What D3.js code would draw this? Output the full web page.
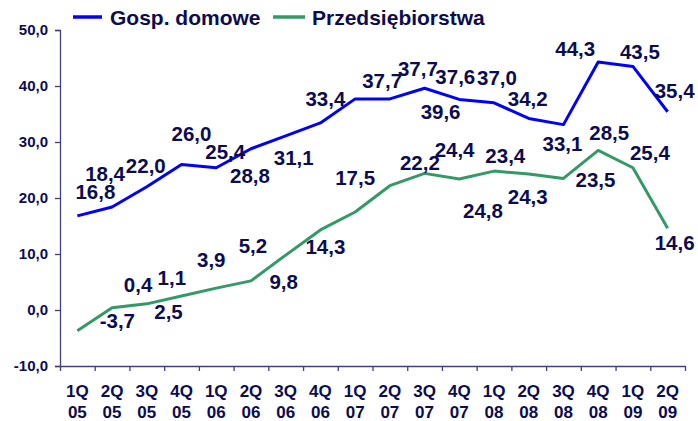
<!DOCTYPE html>
<html>
<head>
<meta charset="utf-8">
<script src="https://cdn.jsdelivr.net/npm/d3@7"></script>
<style>
  body { margin: 0; background: #fff; }
  svg { display: block; font-family: Arial, "Liberation Sans", sans-serif; font-weight: bold; }
</style>
</head>
<body>
<svg width="698" height="421"></svg>
<script>
// data
const quarters = ["1Q 05","2Q 05","3Q 05","4Q 05","1Q 06","2Q 06","3Q 06","4Q 06",
  "1Q 07","2Q 07","3Q 07","4Q 07","1Q 08","2Q 08","3Q 08","4Q 08","1Q 09","2Q 09"];
const households = [16.8,18.4,22.0,26.0,25.4,28.8,31.1,33.4,37.7,37.7,39.6,37.6,37.0,34.2,33.1,44.3,43.5,35.4];
const companies = [-3.7,0.4,1.1,2.5,3.9,5.2,9.8,14.3,17.5,22.2,24.4,23.4,24.8,24.3,23.5,28.5,25.4,14.6];
const yTicks = [-10,0,10,20,30,40,50];
const seriesNames = ["Gosp. domowe", "Przedsiębiorstwa"];

// label offsets (px) from each point, as placed in the original
const hhOffsets = [[18,-24],[-7,-33],[-1,-21],[10,-31],[9,-16],[-1,27],[8,22],[5,-24],[27,-18],
  [28,-30],[16,23],[-4,-23],[3,-25],[-1,-20],[-1,19],[-23,-13],[7,-15],[7,-21]];
const coOffsets = [[40,-10],[26,-23],[25,-26],[-13,15],[-5,-29],[2,-35],[-2,26],[5,17],[0,-35],
  [30,-23],[30,-24],[46,-23],[-11,39],[-1,23],[32,1],[11,-18],[17,-15],[7,14]];

const svg = d3.select("svg"),
    ink = "#0c0c52",
    axisCol = "#40407e",
    blue = "#0000ff",
    green = "#339966";

const x = d3.scaleBand().domain(quarters).range([60, 685]),
    y = d3.scaleLinear().domain([-10, 50]).range([366, 30]);
const fmt = d => d.toFixed(1).replace(".", ",");
const cx = d => x(d) + x.bandwidth() / 2;

// y axis
const gy = svg.append("g")
    .attr("transform", "translate(60,0)")
    .call(d3.axisLeft(y).tickValues(yTicks).tickFormat(fmt).tickSize(5).tickPadding(7));
gy.selectAll("path,line").attr("stroke", axisCol).attr("stroke-width", 1.3);
gy.selectAll("text").attr("fill", ink).style("font-size", "15px").style("font-weight", "bold");

// x axis: ticks on the category boundaries
const xi = d3.scaleLinear().domain([0, quarters.length]).range([60, 685]);
const gx = svg.append("g")
    .attr("transform", "translate(0,366)")
    .call(d3.axisBottom(xi).ticks(quarters.length).tickValues(d3.range(quarters.length + 1))
      .tickFormat("").tickSize(5).tickSizeOuter(0));
gx.selectAll("path,line").attr("stroke", axisCol).attr("stroke-width", 1.3);

const xl = svg.append("g").selectAll("text")
    .data(quarters)
    .enter()
    .append("text")
    .attr("text-anchor", "middle")
    .attr("fill", ink)
    .style("font-size", "17px");
xl.append("tspan").attr("x", cx).attr("y", 397).text(d => d.split(" ")[0]);
xl.append("tspan").attr("x", cx).attr("y", 418).text(d => d.split(" ")[1]);

// lines
const line = d3.line().x((d, i) => cx(quarters[i])).y(d => y(d));
[[households, blue], [companies, green]].forEach(([vals, col]) => {
  svg.append("path")
      .datum(vals)
      .attr("fill", "none")
      .attr("stroke", col)
      .attr("stroke-width", 3)
      .attr("stroke-linejoin", "round")
      .attr("d", line);
});

// data labels
[[households, hhOffsets], [companies, coOffsets]].forEach(([vals, offs]) => {
  svg.append("g").selectAll("text")
      .data(vals)
      .enter()
      .append("text")
      .attr("x", (d, i) => cx(quarters[i]) + offs[i][0])
      .attr("y", (d, i) => y(d) + offs[i][1])
      .attr("text-anchor", "middle")
      .attr("dominant-baseline", "central")
      .attr("fill", ink)
      .style("font-size", "20.5px")
      .text(fmt);
});

// legend
const legend = svg.append("g");
[[73, 102, 110, blue], [273, 305, 312, green]].forEach(([x1, x2, tx, col], i) => {
  legend.append("line").attr("x1", x1).attr("x2", x2).attr("y1", 17).attr("y2", 17)
      .attr("stroke", col).attr("stroke-width", 3.5);
  legend.append("text").attr("x", tx).attr("y", 25).attr("fill", ink)
      .style("font-size", "21px").text(seriesNames[i]);
});
</script>
</body>
</html>
